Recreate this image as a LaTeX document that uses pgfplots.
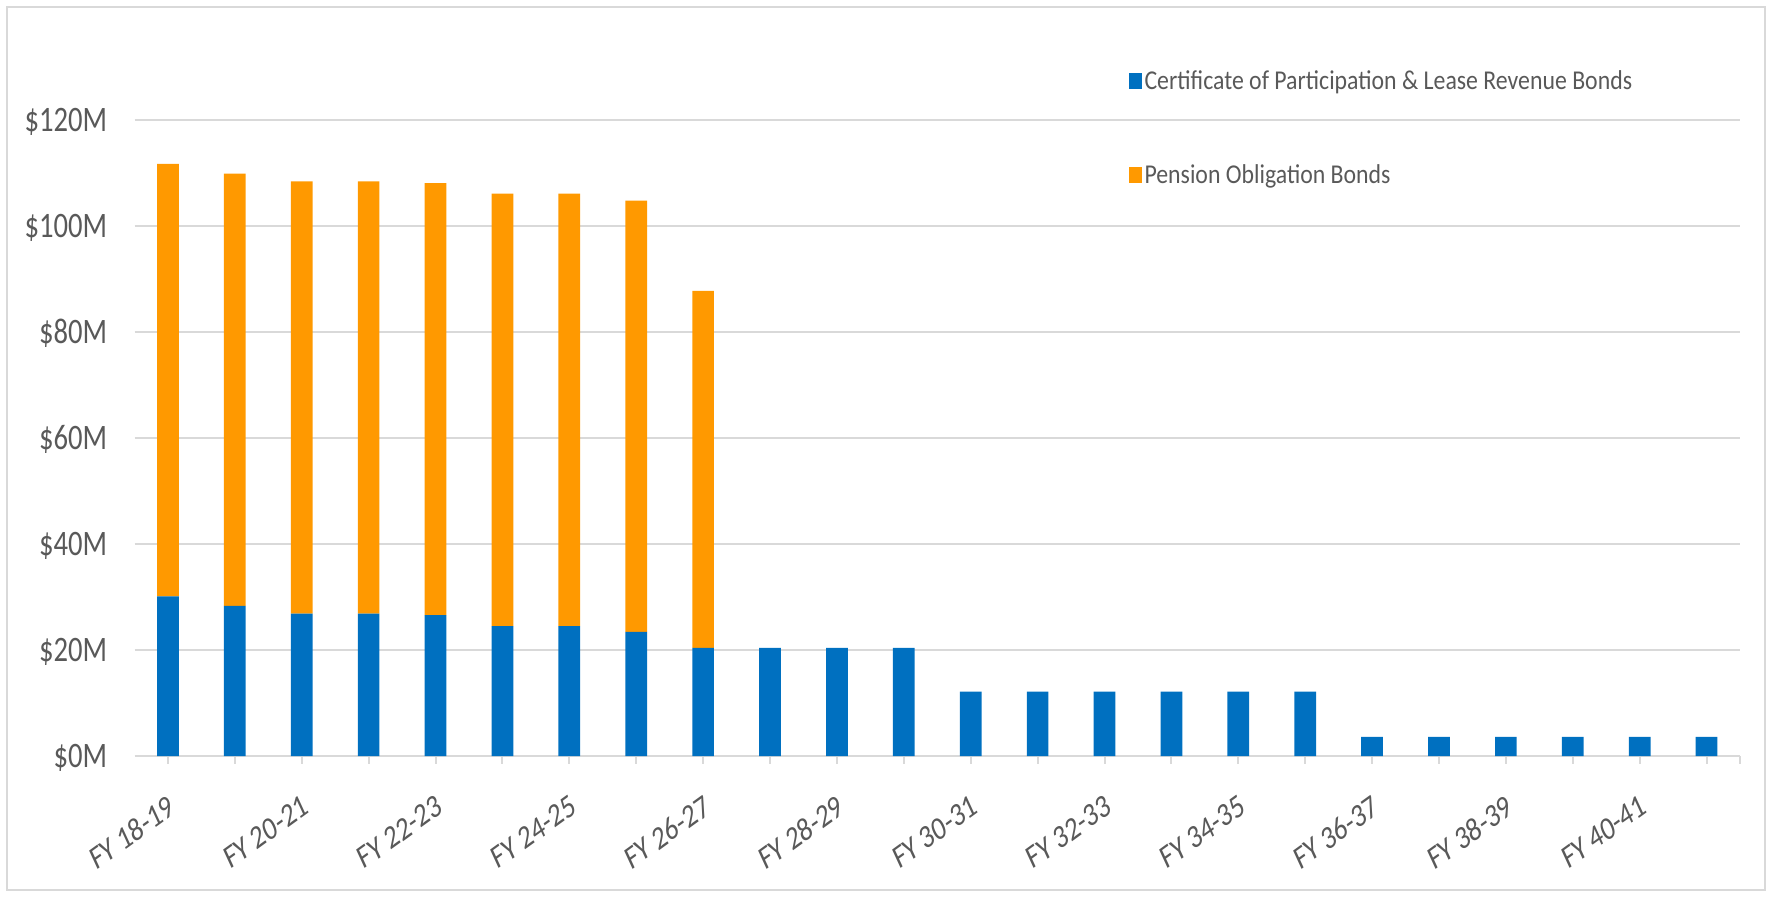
\documentclass[border=0pt]{standalone}
\usepackage{fontspec}
\setmainfont{Carlito}
\usepackage{graphicx}
\usepackage{pgfplots}
\usepackage{pgfplotstable}
\pgfplotsset{compat=1.18}

\definecolor{copblue}{HTML}{0070C0}
\definecolor{pobor}{HTML}{FF9900}
\definecolor{gridgray}{HTML}{D9D9D9}
\definecolor{txtgray}{HTML}{595959}

\newcommand\ticksize{\fontsize{17.9pt}{21pt}\selectfont}
\newcommand\xlblsize{\fontsize{16.5pt}{19pt}\selectfont}
\newcommand\legsize{\fontsize{13.6pt}{16pt}\selectfont}
% rotated first, then narrowed, as in the reference
\newcommand\lbl[1]{\scalebox{0.8}[1]{\rotatebox{30}{#1}}}

% fiscal year index, COP & lease revenue bonds, pension obligation bonds ($M)
\pgfplotstableread{
x  cop    pob
0  30.1   81.6
1  28.35  81.55
2  26.85  81.55
3  26.85  81.55
4  26.6   81.5
5  24.5   81.6
6  24.5   81.6
7  23.4   81.4
8  20.4   67.35
9  20.4   0
10 20.4   0
11 20.4   0
12 12.15  0
13 12.15  0
14 12.15  0
15 12.15  0
16 12.15  0
17 12.15  0
18 3.6    0
19 3.6    0
20 3.6    0
21 3.6    0
22 3.6    0
23 3.6    0
}\debt

\pgfplotsset{sqleg/.style={legend image code/.code={\fill[##1] (0pt,-4pt) rectangle (6.4pt,4pt);}}}

\begin{document}
\begin{tikzpicture}
\useasboundingbox (0,0) rectangle (885.5pt,448pt);
\draw[gridgray, line width=1.2pt] (3.5pt,3pt) rectangle (882.5pt,444.5pt);
\begin{axis}[
  at={(67.25pt,70pt)}, anchor=south west,
  width=802.75pt, height=318pt, scale only axis,
  ybar stacked, bar width=10.85pt,
  xmin=-0.5, xmax=23.5, ymin=0, ymax=120,
  axis line style={draw=none},
  ymajorgrids, grid style={gridgray, line width=1pt},
  ytick={0,20,...,120},
  yticklabels={\$0M,\$20M,\$40M,\$60M,\$80M,\$100M,\$120M},
  ytick style={draw=none},
  xtick={0,...,23},
  xticklabels={\lbl{FY 18-19},,\lbl{FY 20-21},,\lbl{FY 22-23},,\lbl{FY 24-25},,\lbl{FY 26-27},,\lbl{FY 28-29},,\lbl{FY 30-31},,\lbl{FY 32-33},,\lbl{FY 34-35},,\lbl{FY 36-37},,\lbl{FY 38-39},,\lbl{FY 40-41},},
  xtick pos=left, tick align=outside, major tick length=3.85pt,
  xtick style={draw=gridgray, line width=1pt},
  extra x ticks={23.5}, extra x tick labels={},
  extra x tick style={grid=none},
  tick label style={text=txtgray},
  xticklabel style={font=\xlblsize, anchor=north east, inner sep=0pt, xshift=4.5pt},
  xticklabel shift=14.65pt,
  yticklabel style={font=\ticksize, xscale=0.8, anchor=base east, inner sep=0pt, yshift=-5.75pt},
  yticklabel shift=9.65pt,
  legend cell align=left,
  legend style={at={(axis description cs:0.6194,0.9878)}, anchor=west,
    draw=none, fill=none, inner sep=0pt, outer sep=0pt, row sep=38.4pt,
    font=\legsize, text=txtgray,
    nodes={xscale=0.875, inner xsep=1.6pt, inner ysep=0pt, text height=8.84pt, text depth=0pt}},
]
\addplot[fill=copblue, draw=none, sqleg] table[x=x, y=cop] {\debt};
\addplot[fill=pobor, draw=none, sqleg] table[x=x, y=pob] {\debt};
\legend{Certificate of Participation \& Lease Revenue Bonds, Pension Obligation Bonds}
\end{axis}
\end{tikzpicture}
\end{document}
